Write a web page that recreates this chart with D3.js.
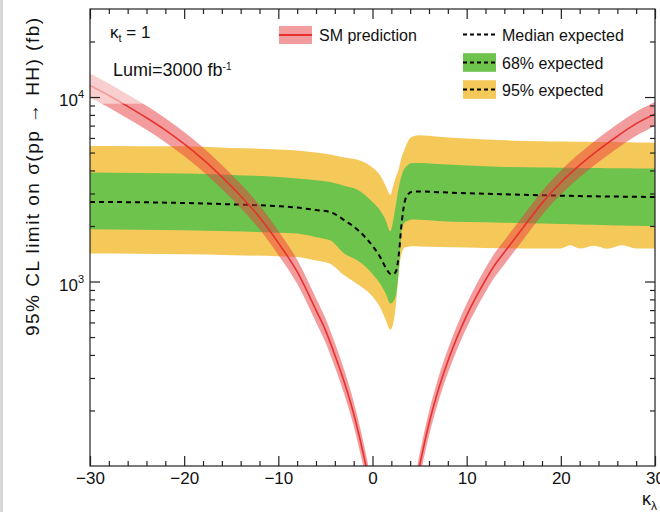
<!DOCTYPE html>
<html>
<head>
<meta charset="utf-8">
<script src="https://cdn.jsdelivr.net/npm/d3@7"></script>
<style>
  body { margin: 0; background: #fff; }
  svg { display: block; font-family: "Liberation Sans", Arial, Helvetica, sans-serif; }
</style>
</head>
<body>
<div id="chart"></div>
<script>
// kappa_lambda values for the SM prediction curve, and the cross-section (fb)
var kappaSM = [-30, -28, -26, -24, -22, -20, -18, -16, -14, -12, -10, -8, -6, -5, -4, -3, -2, -1, -0.6, 0,
               2.2, 4.4, 5, 6, 7, 8, 9, 10, 11, 12, 13, 14, 16, 18, 20, 22, 24, 26, 28, 30];
var smCentral = [11570, 10200, 8900, 7720, 6620, 5570, 4590, 3690, 2910, 2230, 1620, 1130, 700, 545, 400, 285, 192, 118, 95, 64,
                 30, 70, 100, 170, 260, 370, 501, 653, 825, 1019, 1233, 1440, 1960, 2660, 3440, 4270, 5170, 6130, 7170, 8100];
var smUpper = [13421, 11832, 10324, 8955, 7679, 6461, 5324, 4280, 3376, 2587, 1879, 1311, 812, 632, 464, 331, 223, 137, 110, 74,
               35, 81, 116, 197, 302, 429, 581, 757, 957, 1182, 1430, 1670, 2274, 3086, 3990, 4953, 5997, 7111, 8317, 9396];
var smLower = [9950, 8772, 7654, 6639, 5693, 4790, 3947, 3173, 2503, 1918, 1393, 972, 602, 469, 344, 245, 165, 101, 82, 55,
               26, 60, 86, 146, 224, 318, 431, 562, 710, 876, 1060, 1238, 1686, 2288, 2958, 3672, 4446, 5272, 6166, 6966];

// expected limits
var kappaExp = [-30, -25, -20, -15, -10, -8, -6, -4.5, -3, -1.5, 0, 0.8, 1.4, 1.9, 2.2, 2.5, 2.8, 3.1, 3.4, 3.8, 4.2,
                5, 7, 10, 14, 18, 20, 21, 22, 23.5, 25, 26.5, 28, 30];
var expMedian = [2697, 2690, 2664, 2620, 2560, 2515, 2440, 2380, 2150, 1890, 1560, 1360, 1190, 1100, 1095, 1136, 1410, 2080, 2680, 2980, 3070,
                 3080, 3050, 3010, 2969, 2935, 2920, 2912, 2905, 2895, 2890, 2885, 2878, 2871];
var exp68Up = [3893, 3870, 3845, 3780, 3690, 3612, 3540, 3462, 3300, 3120, 2700, 2432, 2150, 1870, 2146, 2637, 3252, 3764, 4092, 4297, 4388,
               4388, 4330, 4250, 4175, 4150, 4140, 4135, 4130, 4120, 4110, 4105, 4098, 4092];
var exp68Down = [1918, 1908, 1895, 1870, 1840, 1818, 1740, 1673, 1420, 1290, 1100, 974, 860, 760, 780, 850, 1150, 1895, 2080, 2140, 2165,
                 2160, 2130, 2100, 2085, 2060, 2050, 2045, 2040, 2030, 2020, 2012, 2005, 1999];
var exp95Up = [5425, 5415, 5405, 5300, 5200, 5136, 5000, 4880, 4700, 4560, 4150, 3764, 3300, 2950, 3319, 3684, 4100, 4729, 5200, 5800, 6100,
               6200, 6100, 5950, 5826, 5760, 5740, 5730, 5720, 5710, 5700, 5690, 5675, 5659];
var exp95Down = [1417, 1412, 1404, 1390, 1370, 1358, 1300, 1250, 1080, 960, 830, 727, 620, 548, 590, 760, 1150, 1420, 1530, 1545, 1551,
                 1550, 1540, 1530, 1515, 1508, 1510, 1570, 1510, 1565, 1505, 1570, 1510, 1510];

var xMajorTicks = [-30, -20, -10, 0, 10, 20, 30];
var yLabelTicks = [1000, 10000];
var legendLabels = ["SM prediction", "Median expected", "68% expected", "95% expected"];

var W = 660, H = 512;
var plotLeft = 90, plotRight = 655, plotTop = 9, plotBottom = 466;

var yellow = "#f4c95a", green = "#6dc34c", red = "#e8393e";

var svg = d3.select("#chart").append("svg")
    .attr("width", W)
    .attr("height", H);

// thin grey strip at the left of the picture
svg.append("rect").attr("x", 0).attr("y", 0).attr("width", 3).attr("height", H).attr("fill", "#d6d6d6");

var x = d3.scaleLinear().domain([-30, 30]).range([plotLeft, plotRight]);
var y = d3.scaleLog().domain([100, 30000]).range([plotBottom, plotTop]);

svg.append("clipPath").attr("id", "plotClip")
    .append("rect")
    .attr("x", plotLeft).attr("y", plotTop)
    .attr("width", plotRight - plotLeft).attr("height", plotBottom - plotTop);

var plot = svg.append("g").attr("clip-path", "url(#plotClip)");

var expRows = kappaExp.map(function(k, i) {
    return {k: k, med: expMedian[i], u1: exp68Up[i], d1: exp68Down[i], u2: exp95Up[i], d2: exp95Down[i]};
});
var smRows = kappaSM.map(function(k, i) {
    return {k: k, c: smCentral[i], hi: smUpper[i], lo: smLower[i]};
});

var band = function(lo, hi) {
    return d3.area()
        .x(function(d) { return x(d.k); })
        .y0(function(d) { return y(d[lo]); })
        .y1(function(d) { return y(d[hi]); })
        .curve(d3.curveMonotoneX);
};

// expected bands
plot.append("path").datum(expRows).attr("d", band("d2", "u2")).attr("fill", yellow);
plot.append("path").datum(expRows).attr("d", band("d1", "u1")).attr("fill", green);

plot.append("path").datum(expRows)
    .attr("d", d3.line()
        .x(function(d) { return x(d.k); })
        .y(function(d) { return y(d.med); })
        .curve(d3.curveMonotoneX))
    .attr("fill", "none")
    .attr("stroke", "#000")
    .attr("stroke-width", 2)
    .attr("stroke-dasharray", "5,4");

// SM prediction
plot.append("path").datum(smRows).attr("d", band("lo", "hi"))
    .attr("fill", red).attr("fill-opacity", 0.5);
plot.append("path").datum(smRows)
    .attr("d", d3.line()
        .x(function(d) { return x(d.k); })
        .y(function(d) { return y(d.c); })
        .curve(d3.curveMonotoneX))
    .attr("fill", "none")
    .attr("stroke", "#e8312f")
    .attr("stroke-width", 1.6);

// faded patch in the top left corner
plot.append("rect")
    .attr("x", plotLeft).attr("y", plotTop)
    .attr("width", x(-24.4) - plotLeft)
    .attr("height", y(9200) - plotTop)
    .attr("fill", "#fff").attr("fill-opacity", 0.5);

// axes, ticks pointing inwards on all four sides
var xMinor = d3.range(-30, 31, 2).filter(function(v) { return xMajorTicks.indexOf(v) < 0; });
var yAll = y.ticks().filter(function(v) { return v > 100 && v < 30000; });
var yMinor = yAll.filter(function(v) { return yLabelTicks.indexOf(v) < 0; });

function styleAxis(g) {
    g.select(".domain").remove();
    g.selectAll(".tick line").attr("stroke", "#222").attr("stroke-width", 1.2);
    g.selectAll("text").attr("font-size", 17).attr("fill", "#111")
        .attr("font-family", "'Liberation Sans', Arial, Helvetica, sans-serif");
}

svg.append("g").attr("transform", "translate(0," + plotBottom + ")")
    .call(d3.axisBottom(x).tickValues(xMajorTicks).tickSize(-10).tickPadding(6))
    .call(styleAxis);
svg.append("g").attr("transform", "translate(0," + plotBottom + ")")
    .call(d3.axisBottom(x).tickValues(xMinor).tickSize(-5).tickFormat(""))
    .call(styleAxis);
svg.append("g").attr("transform", "translate(0," + plotTop + ")")
    .call(d3.axisTop(x).tickValues(xMajorTicks).tickSize(-10).tickFormat(""))
    .call(styleAxis);
svg.append("g").attr("transform", "translate(0," + plotTop + ")")
    .call(d3.axisTop(x).tickValues(xMinor).tickSize(-5).tickFormat(""))
    .call(styleAxis);

svg.append("g").attr("transform", "translate(" + plotLeft + ",0)")
    .call(d3.axisLeft(y).tickValues(yLabelTicks).tickSize(-10).tickFormat(""))
    .call(styleAxis);
svg.append("g").attr("transform", "translate(" + plotLeft + ",0)")
    .call(d3.axisLeft(y).tickValues(yMinor).tickSize(-5).tickFormat(""))
    .call(styleAxis);
svg.append("g").attr("transform", "translate(" + plotRight + ",0)")
    .call(d3.axisRight(y).tickValues(yLabelTicks).tickSize(-10).tickFormat(""))
    .call(styleAxis);
svg.append("g").attr("transform", "translate(" + plotRight + ",0)")
    .call(d3.axisRight(y).tickValues(yMinor).tickSize(-5).tickFormat(""))
    .call(styleAxis);

// frame
svg.append("rect")
    .attr("x", plotLeft).attr("y", plotTop)
    .attr("width", plotRight - plotLeft).attr("height", plotBottom - plotTop)
    .attr("fill", "none").attr("stroke", "#222").attr("stroke-width", 1.2);

// y tick labels 10^n
yLabelTicks.forEach(function(v) {
    var t = svg.append("text")
        .attr("x", plotLeft - 6)
        .attr("y", y(v) + 9)
        .attr("text-anchor", "end")
        .attr("font-size", 17)
        .attr("fill", "#111");
    t.append("tspan").text("10");
    t.append("tspan").attr("dy", -8).attr("font-size", 11).text(Math.round(Math.log10(v)));
});

// axis titles
svg.append("text")
    .attr("transform", "translate(39,18) rotate(-90)")
    .attr("text-anchor", "end")
    .attr("font-size", 19)
    .attr("textLength", 318)
    .attr("lengthAdjust", "spacing")
    .attr("fill", "#111")
    .text("95% CL limit on σ(pp → HH) (fb)");

var xt = svg.append("text")
    .attr("x", 657).attr("y", 505)
    .attr("text-anchor", "end")
    .attr("font-size", 18)
    .attr("fill", "#111");
xt.append("tspan").text("κ");
xt.append("tspan").attr("dy", 5).attr("font-size", 12).text("λ");

// annotations
var kt = svg.append("text").attr("x", 110).attr("y", 37.5).attr("font-size", 17).attr("fill", "#111");
kt.append("tspan").text("κ");
kt.append("tspan").attr("dy", 4).attr("font-size", 11).text("t");
kt.append("tspan").attr("dy", -4).text(" = 1");

var lumi = svg.append("text").attr("x", 113).attr("y", 76).attr("font-size", 18).attr("fill", "#111");
lumi.append("tspan").text("Lumi=3000 fb");
lumi.append("tspan").attr("dy", -6).attr("font-size", 10).text("-1");

// legend
var leg = svg.append("g").attr("font-size", 16).attr("fill", "#111");

leg.append("rect").attr("x", 279).attr("y", 26).attr("width", 33).attr("height", 18)
    .attr("fill", red).attr("fill-opacity", 0.5);
leg.append("line").attr("x1", 279).attr("x2", 312).attr("y1", 35).attr("y2", 35)
    .attr("stroke", "#e8312f").attr("stroke-width", 2);
leg.append("text").attr("x", 319).attr("y", 41).text(legendLabels[0]);

leg.append("line").attr("x1", 463).attr("x2", 496).attr("y1", 34.5).attr("y2", 34.5)
    .attr("stroke", "#000").attr("stroke-width", 2).attr("stroke-dasharray", "4,3");
leg.append("text").attr("x", 502).attr("y", 41).text(legendLabels[1]);

[[green, 62.5, legendLabels[2]], [yellow, 89.5, legendLabels[3]]].forEach(function(e) {
    leg.append("rect").attr("x", 463).attr("y", e[1] - 9.3).attr("width", 33).attr("height", 18.6).attr("fill", e[0]);
    leg.append("line").attr("x1", 463).attr("x2", 496).attr("y1", e[1]).attr("y2", e[1])
        .attr("stroke", "#000").attr("stroke-width", 2).attr("stroke-dasharray", "4,3");
    leg.append("text").attr("x", 502).attr("y", e[1] + 6).text(e[2]);
});
</script>
</body>
</html>
